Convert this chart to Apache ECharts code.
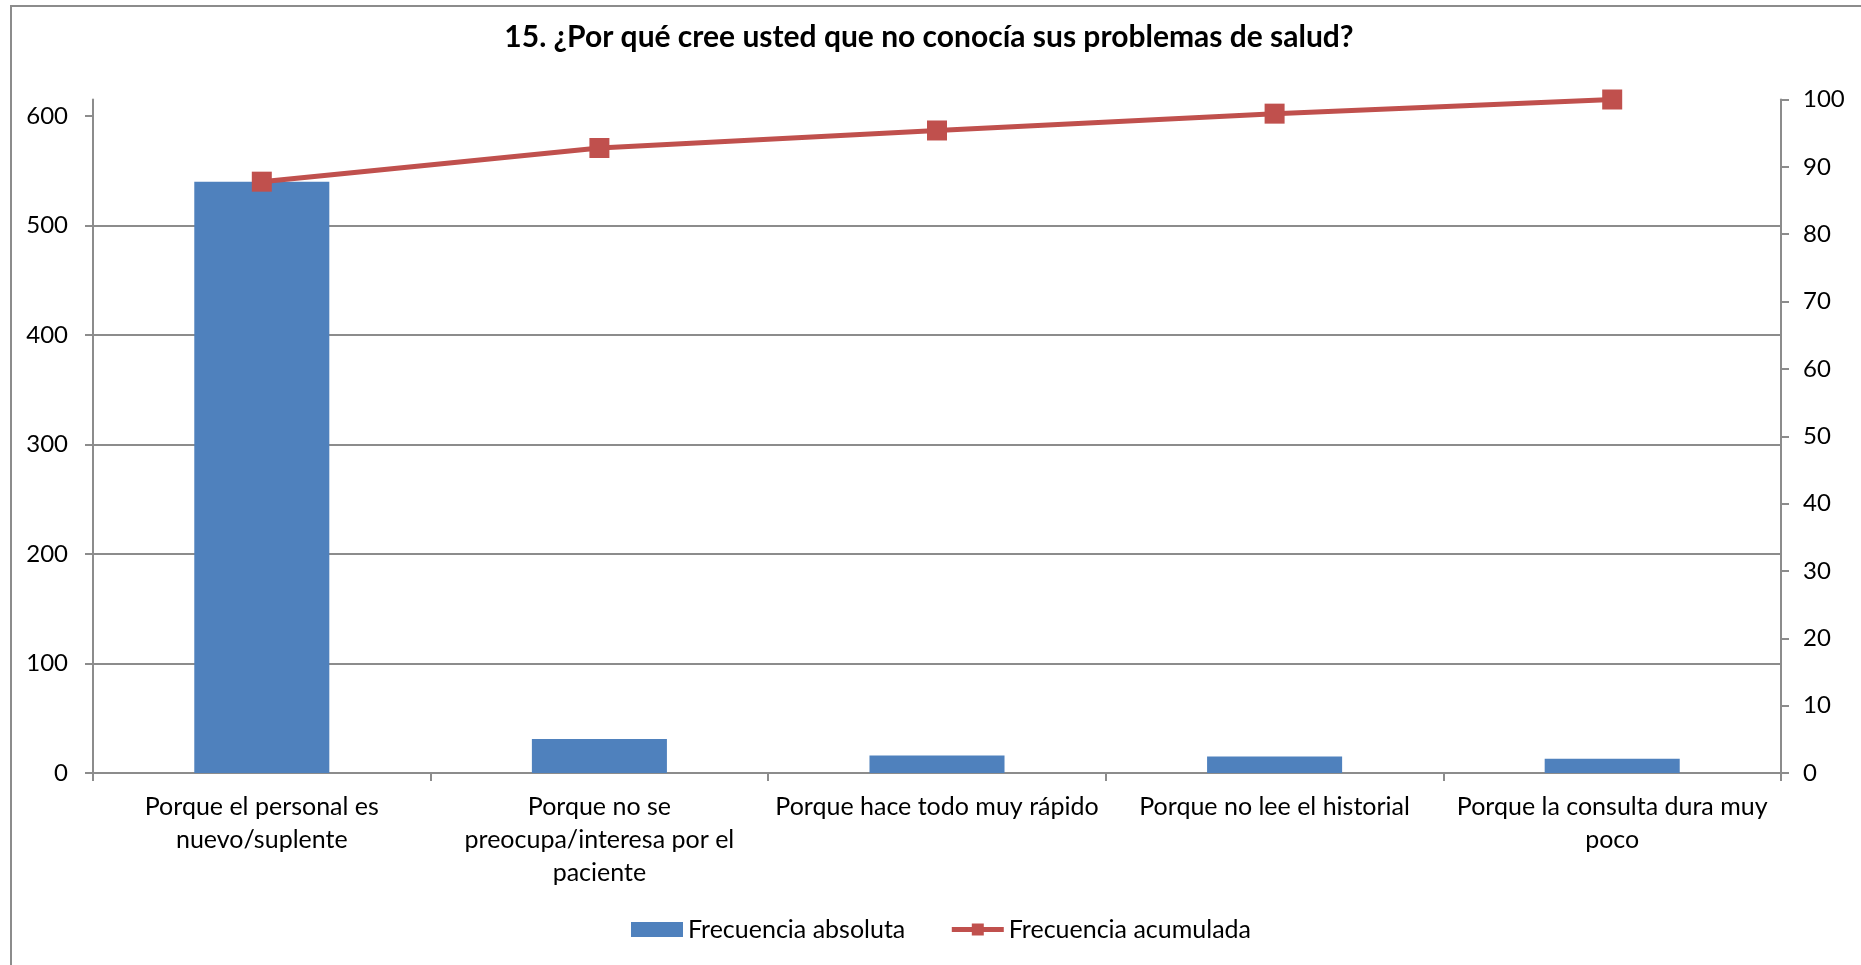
<!DOCTYPE html>
<html>
<head>
<meta charset="utf-8">
<script src="https://cdn.jsdelivr.net/npm/echarts@6/dist/echarts.min.js"></script>
<style>
html,body{margin:0;padding:0;background:#fff;}
#c{width:1861px;height:965px;}
</style>
</head>
<body>
<div id="c"></div>
<script>
const titleText = '15. ¿Por qué cree usted que no conocía sus problemas de salud?';
const categories = [
  'Porque el personal es\nnuevo/suplente',
  'Porque no se\npreocupa/interesa por el\npaciente',
  'Porque hace todo muy rápido',
  'Porque no lee el historial',
  'Porque la consulta dura muy\npoco'
];
const absoluteValues = [540, 31, 16, 15, 13];
const cumulativeValues = [87.8, 92.8, 95.4, 97.9, 100];
const leftTicks = [0, 100, 200, 300, 400, 500, 600];
const seriesNames = ['Frecuencia absoluta', 'Frecuencia acumulada'];

const FONT = 'Lato';
const chart = echarts.init(document.getElementById('c'), null, {renderer: 'canvas'});
chart.setOption({
  animation: false,
  backgroundColor: '#fff',
  textStyle: {fontFamily: FONT, color: '#000'},
  graphic: [{
    type: 'rect', silent: true,
    shape: {x: 11, y: 6, width: 1900, height: 1000},
    style: {fill: 'none', stroke: '#8c8c8c', lineWidth: 2}
  }],
  title: {
    text: titleText,
    left: 924, top: 17, textAlign: 'center',
    textStyle: {fontFamily: FONT, fontWeight: 'bold', fontSize: 30, color: '#000'}
  },
  legend: {
    left: 626, top: 912,
    itemWidth: 52, itemHeight: 15, itemGap: 44,
    lineStyle: {width: 5},
    textStyle: {fontFamily: FONT, fontSize: 25, color: '#000', padding: [0,0,0,0]},
    data: [
      {name: seriesNames[0], icon: 'rect'},
      {name: seriesNames[1]}
    ]
  },
  grid: {left: 93, right: 80, top: 99.5, bottom: 192, containLabel: false},
  xAxis: {
    type: 'category',
    data: categories,
    boundaryGap: true,
    axisLine: {lineStyle: {color: '#8c8c8c', width: 2}},
    axisTick: {show: true, length: 8, lineStyle: {color: '#8c8c8c', width: 2}},
    axisLabel: {interval: 0, fontFamily: FONT, fontSize: 25, color: '#000', lineHeight: 33, margin: 17}
  },
  yAxis: [{
    type: 'value', min: 0, max: 615, interval: 100,
    axisLine: {show: true, lineStyle: {color: '#8c8c8c', width: 2}},
    axisTick: {show: true, length: 8, customValues: leftTicks, lineStyle: {color: '#8c8c8c', width: 2}},
    axisLabel: {customValues: leftTicks, fontFamily: FONT, fontSize: 24, color: '#000', margin: 25},
    splitLine: {show: true, showMaxLine: false, lineStyle: {color: '#8c8c8c', width: 2}}
  }, {
    type: 'value', min: 0, max: 100, interval: 10,
    position: 'right',
    axisLine: {show: true, lineStyle: {color: '#8c8c8c', width: 2}},
    axisTick: {show: true, length: 8, lineStyle: {color: '#8c8c8c', width: 2}},
    axisLabel: {fontFamily: FONT, fontSize: 24, color: '#000', margin: 22},
    splitLine: {show: false}
  }],
  series: [{
    name: seriesNames[0],
    type: 'bar',
    yAxisIndex: 0,
    data: absoluteValues,
    barWidth: '40%',
    itemStyle: {color: '#4F81BD'}
  }, {
    name: seriesNames[1],
    type: 'line',
    yAxisIndex: 1,
    data: cumulativeValues,
    symbol: 'rect',
    symbolSize: 20,
    lineStyle: {color: '#C0504D', width: 5},
    itemStyle: {color: '#C0504D'}
  }]
});
</script>
</body>
</html>
